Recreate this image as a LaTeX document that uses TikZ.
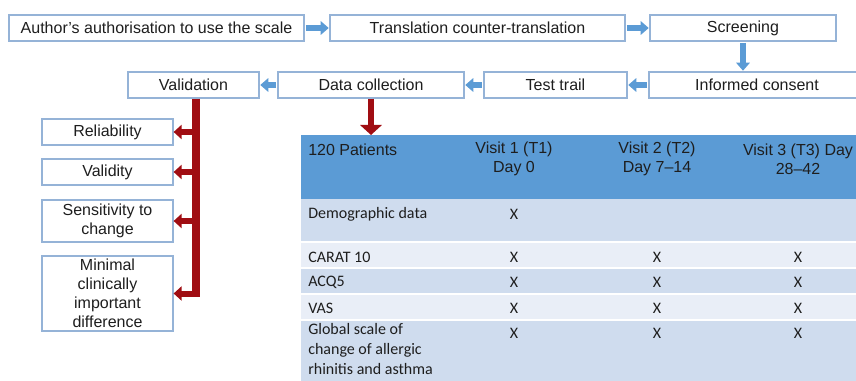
\documentclass[tikz,border=0pt]{standalone}
\usepackage{fontspec}
\setmainfont{Liberation Sans}
\newfontfamily\calibri{Carlito}
\usetikzlibrary{arrows.meta,calc}

\definecolor{boxline}{HTML}{95B3D7}
\definecolor{flowblue}{HTML}{5B9BD5}
\definecolor{arrowred}{HTML}{A00D12}
\definecolor{hdrblue}{HTML}{5B9BD5}
\definecolor{rowdark}{HTML}{CFDCEE}
\definecolor{rowlight}{HTML}{E9EEF7}
\definecolor{inktext}{HTML}{1E1E1E}

\tikzset{
  stagebox/.style={draw=boxline, line width=0.9pt, fill=white, inner sep=0pt,
    align=center, text=inktext, font=\fontsize{12}{14.25}\selectfont},
  flowarrow/.style={draw=flowblue, line width=4.9pt,
    -{Triangle[width=10pt,length=6pt]}, shorten <=1pt, shorten >=0.5pt},
  trunkline/.style={draw=arrowred, line width=6pt},
  branch/.style={draw=arrowred, line width=4.5pt,
    -{Triangle[width=10.5pt,length=6pt]}},
  droparrow/.style={draw=arrowred, line width=4.5pt,
    -{Triangle[width=16pt,length=7.5pt]}},
  headcell/.style={inner sep=0pt, align=center, text=inktext,
    font=\fontsize{12}{14.25}\selectfont},
  bodycell/.style={inner sep=0pt, align=left, text=inktext,
    font=\calibri\fontsize{12}{15}\selectfont},
  markcell/.style={inner sep=0pt, text=inktext,
    font=\calibri\fontsize{12}{15}\selectfont},
  rowsep/.style={draw=white, line width=1.2pt}
}

\begin{document}
\begin{tikzpicture}[x=0.75pt, y=-0.75pt]
\useasboundingbox (0,0) rectangle (856,381);
\fill[white] (0,0) rectangle (856,381);

% ---- process stages ----
\node[stagebox, minimum width=221.25pt, minimum height=19.5pt] (auth) at (156.5,28)
  {Author’s authorisation to use the scale};
\node[stagebox, minimum width=221.25pt, minimum height=19.5pt] (trans) at (477.5,28)
  {Translation counter-translation};
\node[stagebox, minimum width=139.5pt, minimum height=19.5pt] (screen) at (743,28)
  {Screening};
\node[stagebox, minimum width=162pt, minimum height=19.5pt] (consent) at (757,85)
  {Informed consent};
\node[stagebox, minimum width=107.25pt, minimum height=19.5pt] (trial) at (555.5,85)
  {Test trail};
\node[stagebox, minimum width=139.5pt, minimum height=19.5pt] (collect) at (371,85)
  {Data collection};
\node[stagebox, minimum width=98.25pt, minimum height=19.5pt] (valid) at (193.5,85)
  {Validation};

\draw[flowarrow] (auth.east) -- (trans.west);
\draw[flowarrow] (trans.east) -- (screen.west);
\draw[flowarrow] (screen.south) -- (screen.south |- consent.north);
\draw[flowarrow] (consent.west) -- (trial.east);
\draw[flowarrow] (trial.west) -- (collect.east);
\draw[flowarrow] (collect.west) -- (valid.east);

% ---- validation properties ----
\node[stagebox, minimum width=98.25pt, minimum height=19.5pt] (rel) at (107.5,132)
  {Reliability};
\node[stagebox, minimum width=98.25pt, minimum height=19.5pt] (vdt) at (107.5,172)
  {Validity};
\node[stagebox, minimum width=98.25pt, minimum height=31.5pt] (sens) at (107.5,221)
  {Sensitivity to\\change};
\node[stagebox, minimum width=98.25pt, minimum height=56.25pt] (mcid) at (107.5,293.5)
  {Minimal\\clinically\\important\\difference};

\coordinate (trunk) at (196,0);
\draw[trunkline] (valid.south -| trunk) -- ($(mcid.east -| trunk)+(0,3.5)$);
\draw[branch] (rel.east -| trunk) -- (rel.east);
\draw[branch] (vdt.east -| trunk) -- (vdt.east);
\draw[branch] (sens.east -| trunk) -- (sens.east);
\draw[branch] (mcid.east -| trunk) -- (mcid.east);

% ---- visit schedule table ----
\node[fill=hdrblue, inner sep=0pt, minimum width=426.75pt, minimum height=48pt,
  anchor=north west] (hdr) at (301,135) {};
\fill[rowdark]  (301,199) rectangle (870,242);
\fill[rowlight] (301,242) rectangle (870,268);
\fill[rowdark]  (301,268) rectangle (870,294);
\fill[rowlight] (301,294) rectangle (870,320);
\fill[rowdark]  (301,320) rectangle (870,390);
\foreach \yy in {242,268,294,320} \draw[rowsep] (301,\yy) -- (870,\yy);

\draw[droparrow] (collect.south) -- (collect.south |- hdr.north);

\node[headcell, anchor=west] (pat) at (308,149.5) {120 Patients};
\node[headcell] (v1) at (514,159) {Visit 1 (T1)\\Day 0};
\node[headcell] (v2) at (657,159) {Visit 2 (T2)\\Day 7–14};
\node[headcell] (v3) at (798,159) {Visit 3 (T3) Day\\28–42};

\node[bodycell, anchor=west] (demo) at (308,214) {Demographic data};
\node[bodycell, anchor=west] (carat) at (308,257) {CARAT 10};
\node[bodycell, anchor=west] (acq) at (308,282.5) {ACQ5};
\node[bodycell, anchor=west] (vas) at (308,308.5) {VAS};
\node[bodycell, anchor=north west] (glob) at (308,323.5)
  {Global scale of\\change of allergic\\rhinitis and asthma};

\node[markcell] (d1) at (514,214) {X};
\foreach \r/\yy in {c/257,a/282.5,s/308.5,g/333.5}{
  \node[markcell] (\r1) at (514,\yy) {X};
  \node[markcell] (\r2) at (657,\yy) {X};
  \node[markcell] (\r3) at (798,\yy) {X};
}
\end{tikzpicture}
\end{document}
